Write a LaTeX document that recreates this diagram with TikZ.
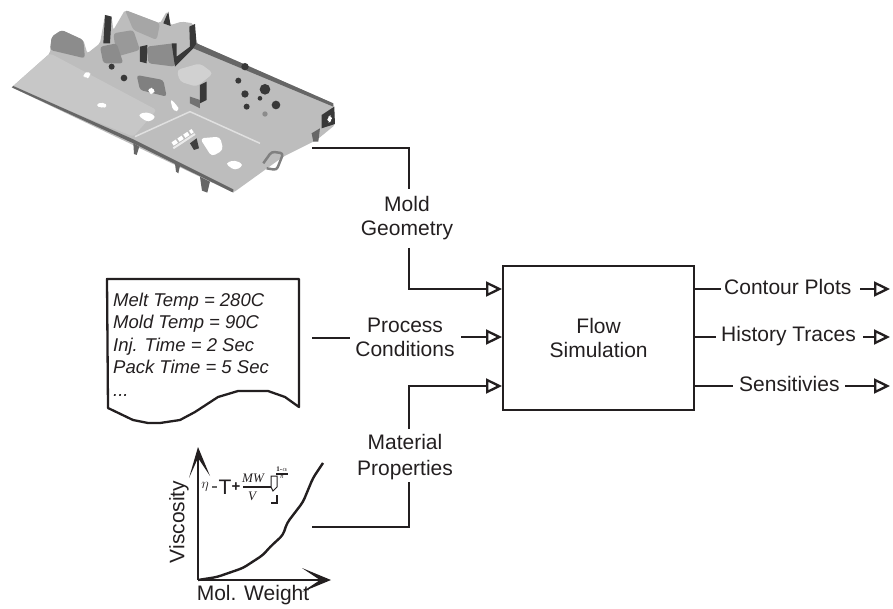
\documentclass[tikz,border=0pt]{standalone}
\usepackage{fontspec}
\setmainfont{Liberation Sans}
\newfontfamily\serifeq{Liberation Serif}
\usetikzlibrary{arrows.meta}
\definecolor{ink}{HTML}{231F20}
\tikzset{
  wire/.style={draw=ink,line width=2.3pt},
  flow/.style={wire,-{Triangle[open,length=16pt,width=15pt,line width=2.3pt]}},
  lbl/.style={font=\fontsize{21}{24}\selectfont,text=ink,align=center,inner sep=0pt},
  doctext/.style={font=\fontsize{18.5}{23}\selectfont\itshape,text=ink,anchor=base west,inner sep=0pt},
  eqtext/.style={font=\fontsize{13}{13}\selectfont\serifeq\itshape,inner sep=0pt,text=ink},
  axis/.style={draw=ink,line width=2.8pt},
  plate/.style={fill=black!22,draw=none,rounded corners=3pt},
  wall/.style={fill=black!45,draw=none,rounded corners=3pt},
  dark/.style={fill=black!78,draw=none},
  hole/.style={fill=white,draw=none,rounded corners=4pt}
}
\begin{document}
\begin{tikzpicture}[x=1pt,y=-1pt]
\useasboundingbox (0,0) rectangle (893,609);
% molded part
\begin{scope}[x=0.3333pt,y=-0.3333pt]
\path[fill=black!26,rounded corners=2pt] (35,262) -- (150,160) -- (155,110) -- (185,90) -- (250,120) -- (262,160) -- (300,130) -- (315,45) -- (335,50) -- (340,90) -- (375,30) -- (480,70) -- (500,35) -- (512,75) -- (545,65) -- (580,70) -- (590,130) -- (1000,310) -- (1005,375) -- (950,420) -- (850,470) -- (700,578) -- cycle;
\path[plate] (35,262) -- (150,160) -- (470,330) -- (400,410) -- cycle;
\path[fill=black!60] (35,262) -- (400,430) -- (700,578) -- (700,568) -- (400,418) -- (40,258) -- cycle;
\path[wall] (155,110) -- (185,90) -- (250,120) -- (255,175) -- (150,150) -- cycle;
\path[wall] (440,140) -- (520,130) -- (525,200) -- (445,190) -- cycle;
\path[fill=black!40,rounded corners=3pt] (340,100) -- (400,90) -- (420,150) -- (350,170) -- cycle;
\path[fill=black!35,rounded corners=3pt] (375,30) -- (480,70) -- (470,120) -- (400,90) -- cycle;
\path[fill=black!18,rounded corners=4pt] (530,210) -- (600,190) -- (640,220) -- (590,260) -- (540,245) -- cycle;
\path[fill=black!50,rounded corners=3pt] (410,225) -- (490,240) -- (500,290) -- (420,270) -- cycle;
\path[fill=black!45,rounded corners=3pt] (300,140) -- (350,130) -- (370,190) -- (310,190) -- cycle;
\path[dark] (315,45) -- (335,50) -- (330,130) -- (310,130) -- cycle;
\path[dark] (490,70) -- (505,35) -- (512,78) -- cycle;
\path[dark] (420,140) -- (442,135) -- (440,190) -- (420,185) -- cycle;
\path[dark] (515,130) -- (530,130) -- (530,170) -- (570,140) -- (568,80) -- (585,72) -- (590,135) -- (525,200) -- cycle;
\path[dark] (600,255) -- (620,245) -- (620,300) -- (600,310) -- cycle;
\path[fill=black!60] (590,130) -- (1000,310) -- (1000,320) -- (580,145) -- cycle;
\path[fill=black!55] (570,290) -- (600,300) -- (600,325) -- (570,310) -- cycle;
\foreach \p/\r in {{735,200}/11,{715,242}/9,{735,282}/11,{740,320}/9,{795,268}/16,{780,295}/7,{828,315}/13,{335,200}/9,{372,234}/10}
  \path[dark] (\p) circle[radius=\r];
\path[fill=black!45] (795,342) circle[radius=8];
\path[hole] (247,222) -- (270,212) -- (272,232) -- (255,236) -- cycle;
\path[hole] (445,262) -- (465,265) -- (462,284) -- (445,280) -- cycle;
\path[hole] (510,295) -- (530,315) -- (540,332) -- (520,335) -- cycle;
\path[hole] (412,345) -- (440,335) -- (470,350) -- (445,368) -- cycle;
\path[hole] (600,415) -- (660,410) -- (670,450) -- (635,470) -- cycle;
\path[hole] (675,490) -- (705,480) -- (732,495) -- (705,512) -- cycle;
\path[hole] (285,315) -- (310,305) -- (325,320) -- (305,325) -- cycle;
\draw[white,line width=4pt,dash pattern=on 5pt off 2pt] (518,432) -- (578,392);
\draw[black!8,line width=2pt] (520,445) -- (585,402);
\path[fill=black!75] (570,430) -- (590,415) -- (597,445) -- (582,450) -- cycle;
\path[dark] (965,345) -- (1003,320) -- (1005,372) -- (965,385) -- cycle;
\path[hole] (982,350) -- (996,345) -- (996,365) -- (982,368) -- cycle;
\draw[black!50,line width=2.5pt,line join=round,rounded corners=3pt] (790,490) -- (815,455) -- (850,460) -- (830,510) -- (800,505);
\path[fill=black!60] (400,430) -- (418,440) -- (410,465) -- (402,462) -- cycle;
\path[fill=black!60] (525,490) -- (540,498) -- (535,520) -- (528,515) -- cycle;
\path[fill=black!60] (600,530) -- (630,545) -- (622,578) -- (606,572) -- cycle;
\path[fill=black!60] (935,400) -- (960,385) -- (955,425) -- (940,425) -- cycle;
\draw[black!12,line width=1.5pt] (405,410) -- (570,335) -- (780,430);
\end{scope}
% process document
\draw[wire,line join=round] (299,407) -- (285,397) -- (268,391) -- (238,391) -- (218,397) -- (195,412) -- (180,420) -- (160,423) -- (148,423) -- (133,420) -- (108,408) -- (107,279) -- (299,279) -- cycle;
\node[doctext] (t1) at (113,306) {Melt Temp = 280C};
\node[doctext] (t2) at (113,328) {Mold Temp = 90C};
\node[doctext] (t3) at (113,351) {Inj. Time = 2 Sec};
\node[doctext] (t4) at (113,373) {Pack Time = 5 Sec};
\node[doctext] (t5) at (113,396) {...};
% chart
\coordinate (org) at (198,580);
\coordinate (ytip) at (198,450);
\coordinate (xtip) at (328,580);
\draw[axis] (org) -- (ytip);
\draw[axis] (org) -- (xtip);
\path[fill=ink] (198,447) -- (210,476) -- (198,458) -- (189,478) -- cycle;
\path[fill=ink] (331,580) -- (302,568) -- (320,580) -- (302,592) -- cycle;
\draw[wire,line width=2.4pt,line join=round,rounded corners=4pt] (org) -- (217,577) -- (243,568) -- (263,555) -- (270,547) -- (283,535) -- (287,523) -- (303,502) -- (313,478) -- (323,463);
\node[lbl,rotate=90] (yl) at (179,522) {Viscosity};
\node[lbl] (xl) at (253,595) {Mol. Weight};
\node[font=\fontsize{15}{15}\selectfont,inner sep=0pt,text=ink] (eta) at (205,487) {$\eta$};
\path[fill=black!60] (212,486) rectangle (217,488);
\node[lbl,font=\fontsize{21}{21}\selectfont] (bigt) at (225,487) {T};
\node[lbl,font=\fontsize{15}{15}\selectfont\bfseries] (plus) at (236,487) {+};
\node[eqtext] (mw) at (253,478) {MW};
\node[eqtext] (vv) at (252,496) {V};
\draw[ink,line width=2pt] (243,487) -- (271,487);
\draw[ink,line width=1pt] (271,487) -- (271,476) -- (277,476) -- (277,487) -- (273,491) -- cycle;
\draw[ink,line width=2pt] (276,474) -- (288,474);
\node[font=\fontsize{7}{7}\selectfont\serifeq\bfseries,inner sep=0pt,text=ink] (ex1) at (282,469) {1-$\alpha$};
\node[font=\fontsize{6.5}{6.5}\selectfont\serifeq\itshape,inner sep=0pt,text=ink] (ex2) at (282,477) {n};
\draw[ink,line width=1.2pt] (277,495) -- (277,503) -- (271,503);
% main block
\node[draw=ink,line width=2.3pt,minimum width=191pt,minimum height=144pt,inner sep=0pt,anchor=north west,lbl] (sim) at (502,265) {Flow\\Simulation};
% labels
\node[lbl] (geo) at (407,218.5) {Mold\\Geometry};
\node[lbl] (proc) at (405,337) {Process\\Conditions};
\node[lbl,font=\fontsize{21}{26}\selectfont] (mat) at (405,457) {Material\\Properties};
\node[lbl,anchor=west] (o1) at (724,287) {Contour Plots};
\node[lbl,anchor=west] (o2) at (721,336) {History Traces};
\node[lbl,anchor=west] (o3) at (739,384) {Sensitivies};
% connector ends
\coordinate (a1) at (312,148);
\coordinate (a2) at (312,338);
\coordinate (a3) at (312,527);
\coordinate (i1) at (502,289);
\coordinate (i2) at (502,337);
\coordinate (i3) at (502,386);
\coordinate (e1) at (890,289);
\coordinate (e2) at (890,337);
\coordinate (e3) at (890,386);
\draw[wire] (a1) -| (409,189);
\draw[flow] (409,248) |- (i1);
\draw[wire] (a2) -- (350,338);
\draw[flow] (461,337) -- (i2);
\draw[wire] (a3) -| (409,482);
\draw[flow] (409,429) |- (i3);
\draw[wire] (693,289) -- (721,289);
\draw[wire] (693,337) -- (716,337);
\draw[wire] (693,386) -- (733,386);
\draw[flow] (860,289) -- (e1);
\draw[flow] (863,337) -- (e2);
\draw[flow] (845,386) -- (e3);
\end{tikzpicture}
\end{document}
